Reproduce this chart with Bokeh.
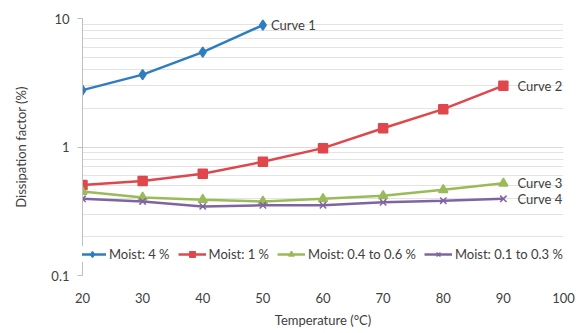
from bokeh.plotting import figure
from bokeh.models import FixedTicker, Legend, LegendItem, ColumnDataSource
from bokeh.embed import file_html
from bokeh.resources import INLINE
from bokeh.core.properties import value

temps = [20, 30, 40, 50, 60, 70, 80, 90]
moist_4 = [2.77, 3.66, 5.47, 8.88]
moist_1 = [0.507, 0.544, 0.62, 0.767, 0.98, 1.40, 1.97, 3.0]
moist_04_06 = [0.45, 0.405, 0.389, 0.377, 0.395, 0.417, 0.464, 0.522]
moist_01_03 = [0.395, 0.377, 0.345, 0.352, 0.352, 0.371, 0.382, 0.395]

series_names = ["Moist: 4 %", "Moist: 1 %", "Moist: 0.4 to 0.6 %", "Moist: 0.1 to 0.3 %"]
curve_labels = ["Curve 1", "Curve 2", "Curve 3", "Curve 4"]
x_ticks = [20, 30, 40, 50, 60, 70, 80, 90, 100]
y_ticks = [0.1, 1, 10]
y_minor = [0.2, 0.3, 0.4, 0.5, 0.6, 0.7, 0.8, 0.9, 2, 3, 4, 5, 6, 7, 8, 9]

colors = ["#2F7DC1", "#E0474C", "#9BBB59", "#8064A2"]
markers = ["diamond", "square", "triangle", "x"]
msizes = [10, 9, 9, 9]

FONT = "Lato"
TXT = "#404040"
FS = "13px"

p = figure(width=576, height=330, output_backend="svg", toolbar_location=None,
           x_range=(20, 100), y_range=(0.1, 10), y_axis_type="log",
           min_border_left=82, min_border_right=13, min_border_top=18, min_border_bottom=52)
p.outline_line_color = None
p.background_fill_color = "white"
p.border_fill_color = "white"

p.xaxis.ticker = FixedTicker(ticks=x_ticks)
p.yaxis.ticker = FixedTicker(ticks=y_ticks, minor_ticks=y_minor)
p.yaxis.major_label_overrides = {0.1: "0.1", 1: "1", 10: "10"}
for ax in (p.xaxis[0], p.yaxis[0]):
    ax.major_label_text_font = FONT
    ax.major_label_text_font_size = FS
    ax.major_label_text_color = TXT
    ax.axis_label_text_font = FONT
    ax.axis_label_text_font_size = FS
    ax.axis_label_text_color = TXT
    ax.axis_label_text_font_style = "normal"
    ax.minor_tick_line_color = None
p.xaxis.axis_line_color = None
p.xaxis.major_tick_line_color = None
p.xaxis.major_label_standoff = 11
p.xaxis.axis_label = "Temperature (°C)"
p.xaxis.axis_label_standoff = 6
p.yaxis.axis_line_color = "#BFBFBF"
p.yaxis.major_tick_line_color = "#BFBFBF"
p.yaxis.major_tick_out = 5
p.yaxis.major_tick_in = 0
p.yaxis.major_label_standoff = 8
p.yaxis.axis_label = "Dissipation factor (%)"
p.yaxis.axis_label_standoff = 19

p.xgrid.grid_line_color = None
p.ygrid.grid_line_color = "#D9D9D9"
p.ygrid.minor_grid_line_color = "#E3E3E3"

all_series = [moist_4, moist_1, moist_04_06, moist_01_03]
items = []
for i, ys in enumerate(all_series):
    xs = temps[:len(ys)]
    src = ColumnDataSource(dict(x=xs, y=ys))
    r1 = p.line("x", "y", source=src, line_color=colors[i], line_width=2.5)
    r2 = p.scatter("x", "y", source=src, marker=markers[i], size=msizes[i],
                   fill_color=colors[i], line_color=colors[i], line_width=1.5)
    items.append(LegendItem(label=series_names[i], renderers=[r1, r2]))
    off = 8 if i == 0 else 14
    p.text(x=[xs[-1]], y=[ys[-1]], text=[curve_labels[i]], x_offset=off,
           text_baseline="middle", text_align="left", text_font=value(FONT),
           text_font_size=FS, text_color=TXT)

legend = Legend(items=items, orientation="horizontal", location=(-4, 13),
                background_fill_color="white", background_fill_alpha=1.0,
                border_line_color=None, label_text_font=FONT, label_text_font_size=FS,
                label_text_color=TXT, glyph_width=28, glyph_height=14, label_standoff=3,
                spacing=8, padding=2, margin=0, label_height=14)
p.add_layout(legend, "center")

open("out.html", "w").write(file_html(p, INLINE))
